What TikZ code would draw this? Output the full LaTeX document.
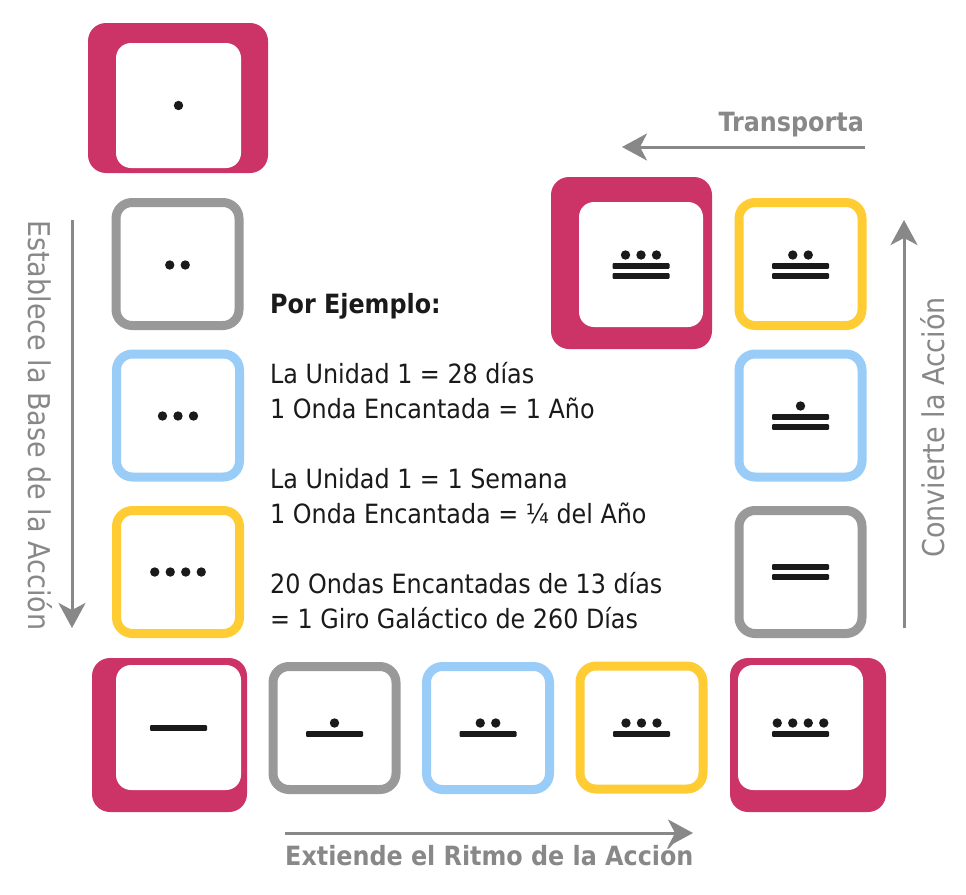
\documentclass[tikz,border=0pt]{standalone}
\usepackage{fontspec}
\setmainfont{DejaVu Sans Condensed}
\usetikzlibrary{arrows.meta}
\definecolor{mag}{RGB}{204,51,102}
\definecolor{gry}{RGB}{153,153,153}
\definecolor{blu}{RGB}{153,204,246}
\definecolor{yel}{RGB}{255,204,51}
\definecolor{lblgray}{RGB}{136,136,136}
\definecolor{ink}{RGB}{26,26,26}
\tikzset{
  obox/.style={draw=#1, line width=9pt, fill=white, rounded corners=16pt, minimum size=123pt, inner sep=0pt},
  mouter/.style={fill=mag, rounded corners=18pt, inner sep=0pt},
  minner/.style={fill=white, rounded corners=15pt, minimum width=125pt, minimum height=125pt, inner sep=0pt},
  glyph/.style={fill=ink},
  body/.style={text=ink, inner sep=0pt, anchor=base west, font=\fontsize{26.5}{35}\selectfont},
  lbl/.style={text=lblgray, inner sep=0pt, font=\fontsize{30}{35}\selectfont},
  blbl/.style={text=lblgray, inner sep=0pt, font=\fontsize{26.5}{35}\selectfont\bfseries},
  flow/.style={draw=lblgray, line width=3pt, -{Stealth[length=25pt,width=27pt,inset=7pt]}}
}
\newcommand\mdot[2]{\fill[glyph] (#1,#2) circle (4.7pt);}
\newcommand\mbar[1]{\fill[glyph, rounded corners=1pt] (-28.5,#1-2.8) rectangle (28.5,#1+2.8);}
\begin{document}
\begin{tikzpicture}[x=1pt,y=-1pt]
\useasboundingbox (0,0) rectangle (966,894);
% magenta boxes
\node[mouter, minimum width=180pt, minimum height=150pt] (m1o) at (178,98) {};
\node[minner] (m1) at (178.5,105.5) {};
\node[mouter, minimum width=155pt, minimum height=154pt] (m5o) at (169.5,735) {};
\node[minner] (m5) at (178.5,727.5) {};
\node[mouter, minimum width=156pt, minimum height=154pt] (m9o) at (808,735) {};
\node[minner] (m9) at (800.5,727.5) {};
\node[mouter, minimum width=161pt, minimum height=172pt] (m13o) at (631.5,263) {};
\node[minner, minimum width=124pt] (m13) at (641,264.5) {};
% outlined boxes
\node[obox=gry] (g2) at (177.5,264) {};
\node[obox=blu] (b3) at (178,415.5) {};
\node[obox=yel] (y4) at (178,572) {};
\node[obox=gry] (g6) at (334.5,728) {};
\node[obox=blu] (b7) at (488,728) {};
\node[obox=yel] (y8) at (641.5,727.5) {};
\node[obox=gry] (g10) at (800.5,572) {};
\node[obox=blu] (b11) at (800.5,415.5) {};
\node[obox=yel] (y12) at (800.5,264) {};
% glyphs
\begin{scope}[shift={(m1.center)}] \mdot{0}{0} \end{scope}
\begin{scope}[shift={(g2.center)}] \mdot{-7.75}{1} \mdot{7.75}{1} \end{scope}
\begin{scope}[shift={(b3.center)}] \mdot{-15.5}{0.5} \mdot{0}{0.5} \mdot{15.5}{0.5} \end{scope}
\begin{scope}[shift={(y4.center)}] \mdot{-23.25}{0} \mdot{-7.75}{0} \mdot{7.75}{0} \mdot{23.25}{0} \end{scope}
\begin{scope}[shift={(m5.center)}] \mbar{0.5} \end{scope}
\begin{scope}[shift={(g6.center)}] \mbar{6} \mdot{0}{-5} \end{scope}
\begin{scope}[shift={(b7.center)}] \mbar{6} \mdot{-7.75}{-5} \mdot{7.75}{-5} \end{scope}
\begin{scope}[shift={(y8.center)}] \mbar{6.5} \mdot{-15.5}{-4.5} \mdot{0}{-4.5} \mdot{15.5}{-4.5} \end{scope}
\begin{scope}[shift={(m9.center)}] \mbar{6.5} \mdot{-23.25}{-4.5} \mdot{-7.75}{-4.5} \mdot{7.75}{-4.5} \mdot{23.25}{-4.5} \end{scope}
\begin{scope}[shift={(g10.center)}] \mbar{-5} \mbar{5} \end{scope}
\begin{scope}[shift={(b11.center)}] \mbar{1.5} \mbar{11.5} \mdot{0}{-9.5} \end{scope}
\begin{scope}[shift={(y12.center)}] \mbar{2} \mbar{12} \mdot{-7.75}{-9} \mdot{7.75}{-9} \end{scope}
\begin{scope}[shift={(m13.center)}] \mbar{1.5} \mbar{11.5} \mdot{-15.5}{-9.5} \mdot{0}{-9.5} \mdot{15.5}{-9.5} \end{scope}
% example text
\node[body, font=\fontsize{26.5}{35}\selectfont\bfseries] (t0) at (270,313) {Por Ejemplo:};
\node[body] (t1) at (270,383) {La Unidad 1 = 28 días};
\node[body] (t2) at (270,418) {1 Onda Encantada = 1 Año};
\node[body] (t3) at (270,488) {La Unidad 1 = 1 Semana};
\node[body] (t4) at (270,523) {1 Onda Encantada = ¼ del Año};
\node[body] (t5) at (270,593) {20 Ondas Encantadas de 13 días};
\node[body] (t6) at (270,628) {= 1 Giro Galáctico de 260 Días};
% arrows
\coordinate (ta) at (865,147); \coordinate (tb) at (622,147);
\coordinate (ba) at (285,833); \coordinate (bb) at (693,833);
\coordinate (la) at (72,220);  \coordinate (lb) at (72,628);
\coordinate (ra) at (904,628); \coordinate (rb) at (904,220);
\draw[flow] (ta) -- (tb);
\draw[flow] (ba) -- (bb);
\draw[flow] (la) -- (lb);
\draw[flow] (ra) -- (rb);
% labels
\node[blbl, anchor=base east] (ltrans) at (864,131) {Transporta};
\node[blbl, anchor=base west] (lext) at (285,865) {Extiende el Ritmo de la Acción};
\node[lbl, rotate=-90, anchor=base west] (lest) at (28,220) {Establece la Base de la Acción};
\node[lbl, rotate=90, anchor=base west] (lconv) at (944,558) {Convierte la Acción};
\end{tikzpicture}
\end{document}
